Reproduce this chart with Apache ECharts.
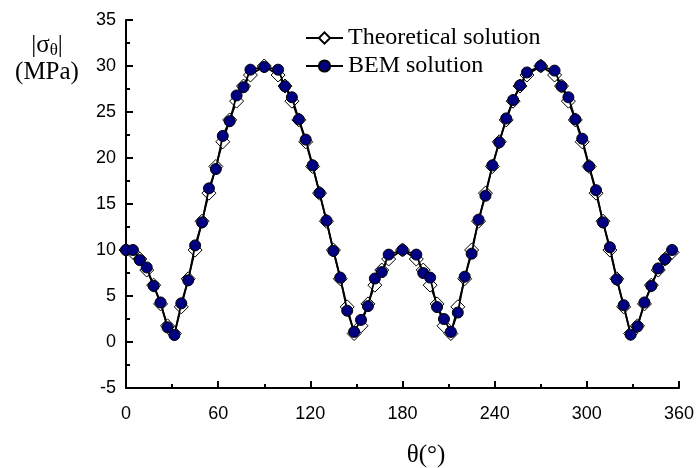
<!DOCTYPE html>
<html><head><meta charset="utf-8">
<script src="https://cdn.jsdelivr.net/npm/echarts@6/dist/echarts.min.js"></script>
<style>html,body{margin:0;padding:0;background:#fff}#c{width:699px;height:468px}</style>
</head><body><div id="c"></div>
<script>
var angles = [0,4.5,9,13.5,18,22.5,27,31.5,36,40.5,45,49.5,54,58.5,63,67.5,72,76.5,81,90,
  99,103.5,108,112.5,117,121.5,126,130.5,135,139.5,144,148.5,153,157.5,162,166.5,171,180,
  189,193.5,198,202.5,207,211.5,216,220.5,225,229.5,234,238.5,243,247.5,252,256.5,261,270,
  279,283.5,288,292.5,297,301.5,306,310.5,315,319.5,324,328.5,333,337.5,342,346.5,351,355.5];
var theoretical = [10,9.75,9.02,7.82,6.18,4.14,1.76,0.92,3.82,6.87,10,13.13,16.18,19.08,21.76,24.14,26.18,27.82,29.02,30,
  29.02,27.82,26.18,24.14,21.76,19.08,16.18,13.13,10,6.87,3.82,0.92,1.76,4.14,6.18,7.82,9.02,10,
  9.02,7.82,6.18,4.14,1.76,0.92,3.82,6.87,10,13.13,16.18,19.08,21.76,24.14,26.18,27.82,29.02,30,
  29.02,27.82,26.18,24.14,21.76,19.08,16.18,13.13,10,6.87,3.82,0.92,1.76,4.14,6.18,7.82,9.02,9.75];
var bem = [10,10,8.9,8.1,6.1,4.3,1.6,0.76,4.2,6.7,10.5,13.0,16.7,18.8,22.4,24.0,26.8,27.7,29.6,29.9,
  29.6,27.8,26.6,24.2,22.0,19.2,16.2,13.2,9.9,7.0,3.4,1.1,2.4,3.9,6.9,7.6,9.5,10.0,
  9.5,7.5,7.0,3.8,2.5,1.1,3.2,7.1,9.6,13.3,15.9,19.2,21.7,24.3,26.3,27.9,29.3,30.0,
  29.5,27.8,26.6,24.2,22.1,19.1,16.5,13.0,10.3,6.8,4.0,0.8,1.7,4.3,6.1,8.0,9.0,10.0];
var seriesNames = ['Theoretical solution','BEM solution'];
var xTicks = {min:0,max:360,interval:60};
var yTicks = {min:-5,max:35,interval:5};

function pairs(xs, ys){ return xs.map(function(x,i){return [x, ys[i]];}); }

var chart = echarts.init(document.getElementById('c'));
chart.setOption({
  animation:false,
  backgroundColor:'#fff',
  grid:{left:126,right:20,top:20,bottom:80},
  legend:{
    left:300, top:21, orient:'vertical', itemWidth:37, itemHeight:14, itemGap:4,
    textStyle:{fontFamily:'Liberation Serif', fontSize:24, color:'#000'},
    data:seriesNames
  },
  xAxis:{
    type:'value', min:xTicks.min, max:xTicks.max, interval:xTicks.interval,
    axisLine:{onZero:false, lineStyle:{color:'#000',width:2}},
    axisTick:{inside:true,length:7,lineStyle:{color:'#000',width:2}},
    minorTick:{show:true,splitNumber:2,length:4,lineStyle:{color:'#000',width:2}},
    splitLine:{show:false},
    axisLabel:{color:'#000',fontFamily:'Liberation Sans',fontSize:18,margin:17}
  },
  yAxis:{
    type:'value', min:yTicks.min, max:yTicks.max, interval:yTicks.interval,
    axisLine:{onZero:false, lineStyle:{color:'#000',width:2}},
    axisTick:{inside:true,length:7,lineStyle:{color:'#000',width:2}},
    minorTick:{show:true,splitNumber:2,length:4,lineStyle:{color:'#000',width:2}},
    splitLine:{show:false},
    axisLabel:{color:'#000',fontFamily:'Liberation Sans',fontSize:18,margin:10}
  },
  graphic:[
    {type:'text', x:426, y:455, style:{text:'θ(°)', fontFamily:'Liberation Serif', fontSize:25, fill:'#000', align:'center', verticalAlign:'middle'}},
    {type:'text', x:47, y:45, style:{text:'|σ{s|θ}|', fontFamily:'Liberation Serif', fontSize:25, fill:'#000', align:'center', verticalAlign:'middle',
      rich:{s:{fontSize:17, fontFamily:'Liberation Serif', verticalAlign:'bottom', padding:[12,0,0,0]}}}},
    {type:'text', x:47, y:72, style:{text:'(MPa)', fontFamily:'Liberation Serif', fontSize:25, fill:'#000', align:'center', verticalAlign:'middle'}}
  ],
  series:[
    {name:seriesNames[0], type:'line', data:pairs(angles, theoretical), symbol:'diamond', symbolSize:14,
      itemStyle:{color:'#fff', borderColor:'#000', borderWidth:1},
      lineStyle:{color:'#000', width:1.8}, z:2},
    {name:seriesNames[1], type:'line', data:pairs(angles, bem), symbol:'circle', symbolSize:11,
      itemStyle:{color:'#000080', borderColor:'#000', borderWidth:1},
      lineStyle:{color:'#000', width:1.8}, z:3}
  ]
});
</script></body></html>
